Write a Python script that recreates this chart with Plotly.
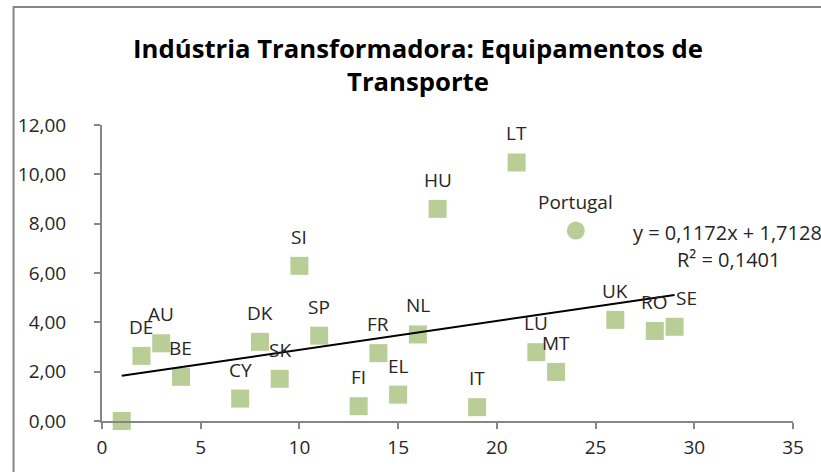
import plotly.graph_objects as go

# data
countries = ["", "DE", "AU", "BE", "CY", "DK", "SK", "SI", "SP", "FI", "FR", "EL",
             "NL", "HU", "IT", "LT", "LU", "MT", "UK", "RO", "SE"]
x_vals = [1, 2, 3, 4, 7, 8, 9, 10, 11, 13, 14, 15, 16, 17, 19, 21, 22, 23, 26, 28, 29]
y_vals = [0.00, 2.64, 3.15, 1.79, 0.91, 3.21, 1.71, 6.29, 3.46, 0.60, 2.75, 1.07,
          3.51, 8.60, 0.56, 10.48, 2.79, 1.99, 4.10, 3.65, 3.82]

pt_name = "Portugal"
pt_x = 24
pt_y = 7.72

slope = 0.1172
intercept = 1.7128
r2 = 0.1401

green = "rgb(185,205,150)"
axis_col = "rgb(134,134,134)"
txt_col = "#262626"
fnt = "Open Sans"
fsize = 19

fig = go.Figure()

fig.add_trace(go.Scatter(
    x=x_vals, y=y_vals, mode="markers",
    marker=dict(symbol="square", size=18, color=green),
    cliponaxis=False, showlegend=False
))
fig.add_trace(go.Scatter(
    x=[pt_x], y=[pt_y], mode="markers",
    marker=dict(symbol="circle", size=18, color=green),
    cliponaxis=False, showlegend=False
))

# linear trendline
tx = [min(x_vals), max(x_vals)]
fig.add_trace(go.Scatter(
    x=tx, y=[slope * v + intercept for v in tx], mode="lines",
    line=dict(color="black", width=2), showlegend=False
))

# point labels
for c, xv, yv in zip(countries + [pt_name], x_vals + [pt_x], y_vals + [pt_y]):
    if not c:
        continue
    fig.add_annotation(x=xv, y=yv, text=c, showarrow=False,
                       yshift=29, xshift=12 if c == "SE" else 0,
                       font=dict(size=fsize, color=txt_col, family=fnt))

fig.add_annotation(x=26.81, y=7.66, xanchor="left", showarrow=False,
                   text="y = " + f"{slope:.4f}".replace(".", ",") + "x + "
                   + f"{intercept:.4f}".replace(".", ","),
                   font=dict(size=20, color=txt_col, family=fnt))
fig.add_annotation(x=29.04, y=6.56, xanchor="left", showarrow=False,
                   text="R² = " + f"{r2:.4f}".replace(".", ","),
                   font=dict(size=20, color=txt_col, family=fnt))

# chart-area border (cut off at right and bottom)
fig.add_shape(type="rect", xref="paper", yref="paper",
              x0=-0.128, x1=1.3, y0=-0.4, y1=1.399,
              line=dict(color=axis_col, width=2), layer="below")

fig.update_layout(
    width=821, height=472,
    margin=dict(l=101.5, r=28.3, t=125, b=51.3, autoexpand=False),
    paper_bgcolor="white", plot_bgcolor="white",
    separators=", ",
    title=dict(text="<b>Indústria Transformadora: Equipamentos de<br>Transporte</b>",
               x=418 / 821, xanchor="center", y=1 - 58 / 472, yanchor="middle",
               font=dict(size=25.7, color="black", family=fnt)),
    font=dict(family=fnt, size=fsize, color=txt_col),
)
fig.update_xaxes(range=[0, 35], dtick=5, tick0=0, showgrid=False, zeroline=False,
                 showline=True, linecolor=axis_col, linewidth=2, automargin=False,
                 ticks="outside", ticklen=6, tickwidth=2, tickcolor=axis_col,
                 ticklabelstandoff=2)
fig.update_yaxes(range=[0, 12], dtick=2, tick0=0, tickformat=".2f", showgrid=False,
                 zeroline=False, showline=True, linecolor=axis_col, linewidth=2,
                 automargin=False,
                 ticks="outside", ticklen=6, tickwidth=2, tickcolor=axis_col,
                 ticklabelstandoff=24)

fig.write_html("out.html", config={"displayModeBar": False},
               post_script="document.body.style.margin='0';")
